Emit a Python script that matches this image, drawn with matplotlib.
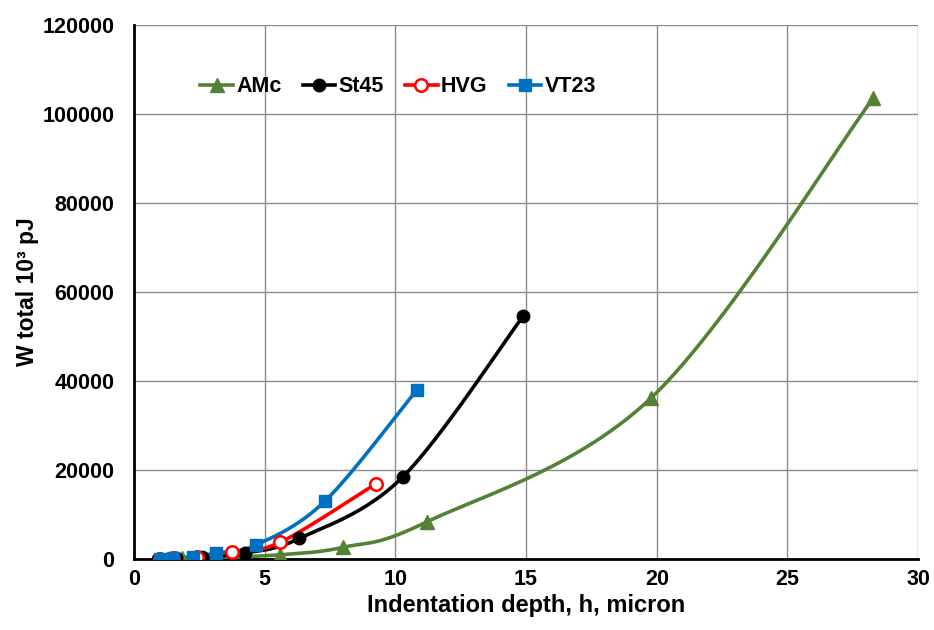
import numpy as np
import matplotlib
matplotlib.use("Agg")
import matplotlib.pyplot as plt

plt.rcParams['font.family'] = ['Liberation Sans', 'DejaVu Sans']
plt.rcParams['font.weight'] = 'bold'

# data (h in micron, W total in 10^3 pJ)
amc_h = [1.0, 1.83, 3.16, 5.59, 8.01, 11.2, 19.79, 28.28]
amc_w = [30, 100, 300, 900, 2600, 8300, 36200, 103600]

st45_h = [0.9, 1.6, 2.6, 4.25, 6.33, 10.28, 14.89]
st45_w = [50, 150, 400, 1300, 4600, 18400, 54600]

hvg_h = [1.0, 1.5, 2.4, 3.74, 5.59, 9.26]
hvg_w = [50, 150, 500, 1600, 3700, 16900]

vt23_h = [1.0, 1.5, 2.27, 3.14, 4.67, 7.31, 10.82]
vt23_w = [50, 150, 500, 1300, 3100, 13000, 38000]


def smooth(xs, ys, xr=30.0, yr=120000.0, n=30):
    # Excel-style smoothed line: cubic Bezier segments through the points
    p = np.column_stack([np.array(xs) / xr, np.array(ys) / yr])
    out = []
    for i in range(len(p) - 1):
        p0 = p[i - 1] if i > 0 else p[i]
        p3 = p[i + 2] if i + 2 < len(p) else p[i + 1]
        c1 = p[i] + (p[i + 1] - p0) / 6
        c2 = p[i + 1] - (p3 - p[i]) / 6
        t = np.linspace(0, 1, n)[:, None]
        seg = ((1 - t) ** 3 * p[i] + 3 * (1 - t) ** 2 * t * c1
               + 3 * (1 - t) * t ** 2 * c2 + t ** 3 * p[i + 1])
        out.append(seg)
    out = np.vstack(out)
    return out[:, 0] * xr, out[:, 1] * yr


fig = plt.figure(figsize=(9.34, 6.3), dpi=100)
ax = fig.add_axes([0.1435, 0.113, 0.8395, 0.847])

series = [
    ("AMc", amc_h, amc_w, "#548235", dict(marker="^", mfc="#548235", ms=10)),
    ("St45", st45_h, st45_w, "black", dict(marker="o", mfc="black", ms=9)),
    ("HVG", hvg_h, hvg_w, "#FF0000", dict(marker="o", mfc="white", ms=9, mew=1.8)),
    ("VT23", vt23_h, vt23_w, "#0070C0", dict(marker="s", mfc="#0070C0", ms=9)),
]

for name, h, w, col, mk in series:
    sx, sy = smooth(h, w)
    ax.plot(sx, sy, color=col, lw=2.6, zorder=3)
    ax.plot(h, w, ls="none", color=col, mec=col, zorder=4, **mk)
    # legend handle
    ax.plot([], [], color=col, lw=2.6, mec=col, label=name, **mk)

ax.set_xlim(0, 30)
ax.set_ylim(0, 120000)
ax.set_xticks(np.arange(0, 31, 5))
ax.set_yticks(np.arange(0, 120001, 20000))
ax.grid(True, color="#8c8c8c", lw=1)
ax.set_axisbelow(True)
ax.tick_params(length=0, labelsize=15.5)
ax.tick_params(axis="y", pad=14)
ax.tick_params(axis="x", pad=7)
for lab in ax.get_xticklabels() + ax.get_yticklabels():
    lab.set_fontweight("bold")

for s in ["top", "right"]:
    ax.spines[s].set_visible(False)
for s in ["left", "bottom"]:
    ax.spines[s].set_linewidth(2)
    ax.spines[s].set_color("black")

ax.set_xlabel("Indentation depth, h, micron", fontsize=17, fontweight="bold", labelpad=3)
ax.set_ylabel("W total 10\u00b3 pJ", fontsize=16.5, fontweight="bold", labelpad=2.5)

leg = ax.legend(loc="center left", bbox_to_anchor=(0.06, 0.885), ncol=4, frameon=False,
                prop={"weight": "bold", "size": 15.5}, handlelength=1.5,
                handletextpad=0.15, columnspacing=1.0)

fig.savefig("out.png", dpi=100)
